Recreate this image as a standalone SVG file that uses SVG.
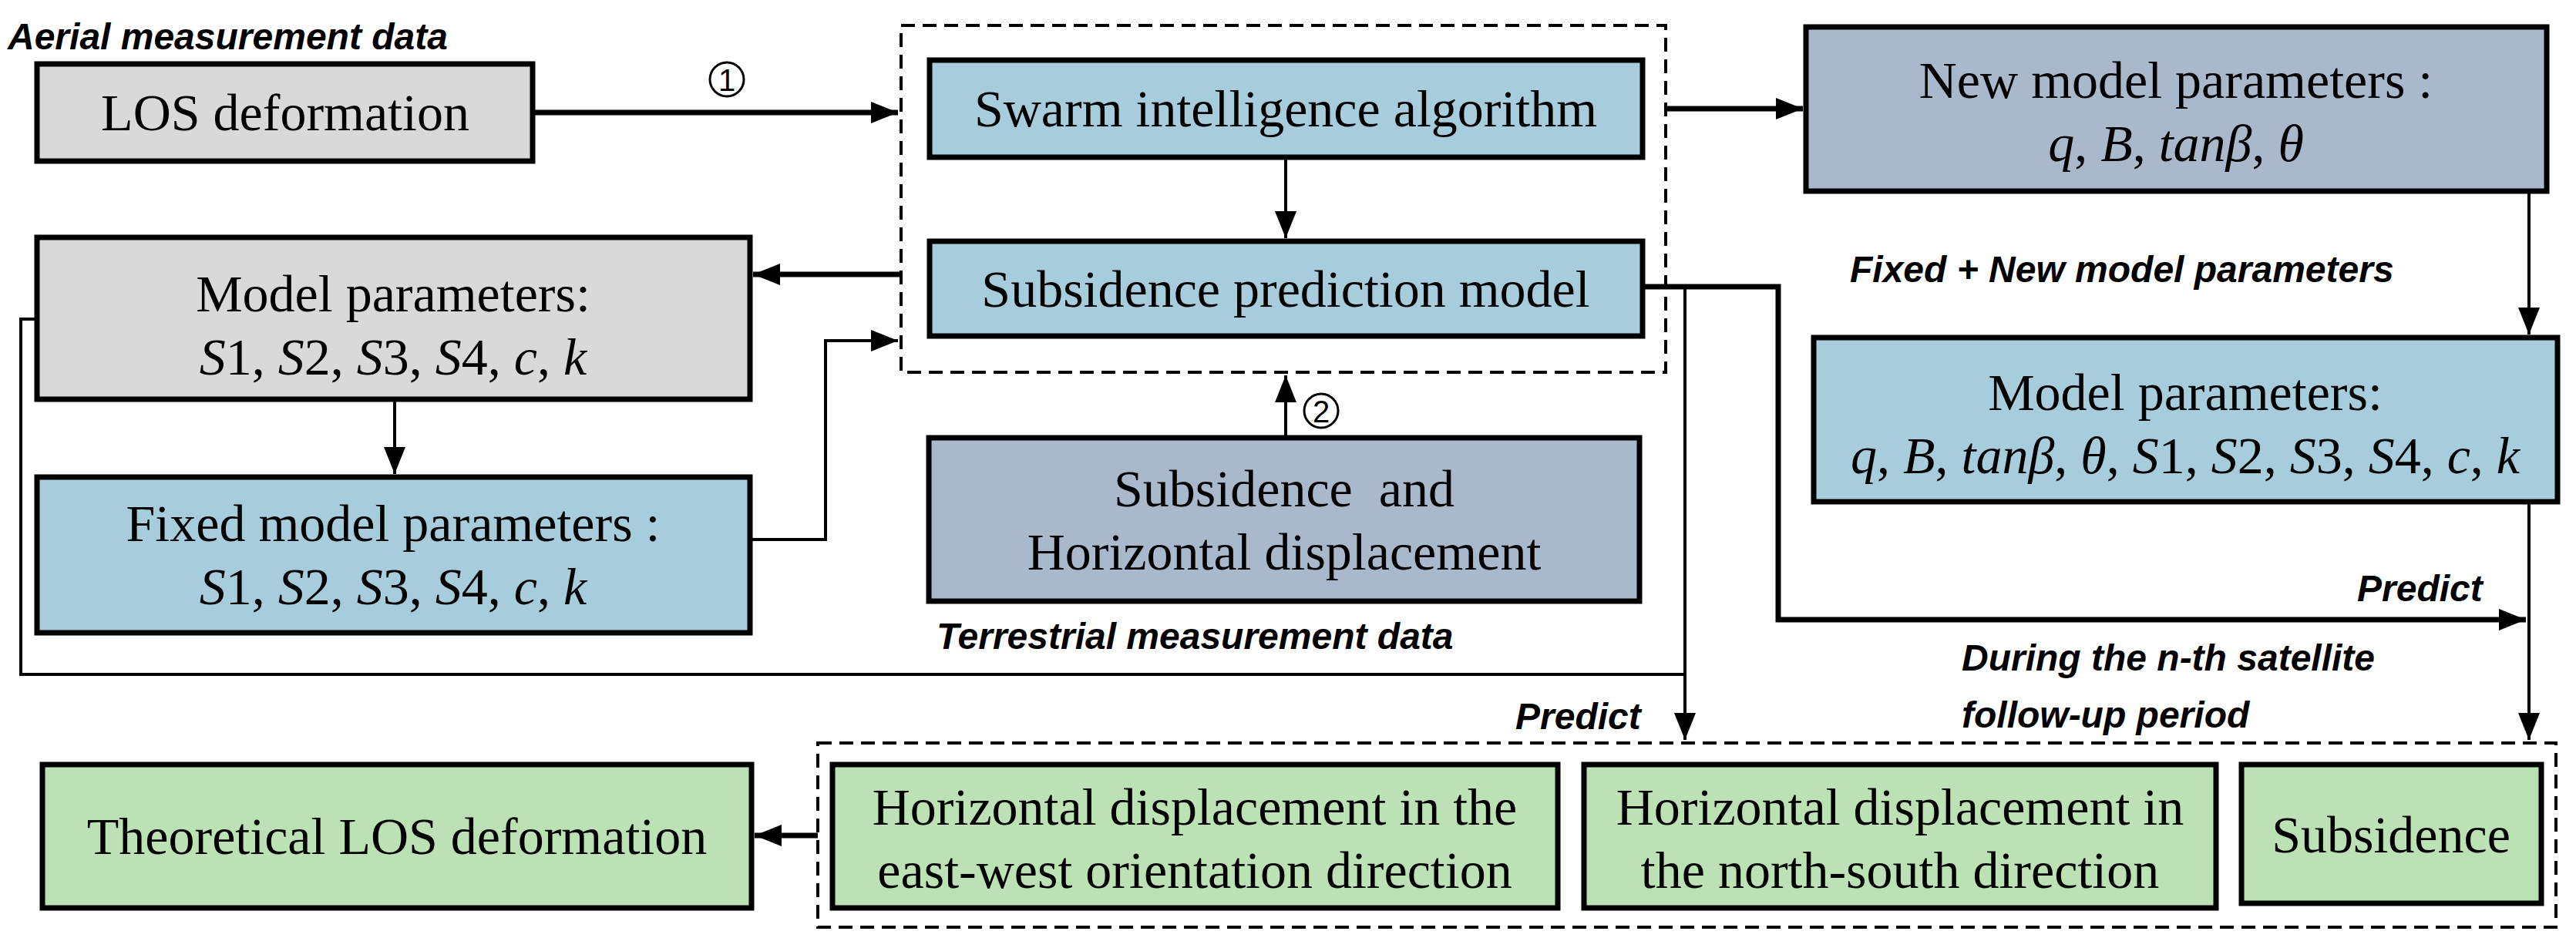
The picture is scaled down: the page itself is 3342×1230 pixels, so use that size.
<svg xmlns="http://www.w3.org/2000/svg" width="3342" height="1230" viewBox="0 0 3342 1230">
<style>
.n{stroke:#000;stroke-width:7}
.g{fill:#d9d9d9}.b{fill:#a7cddc}.s{fill:#a9b9cb}.gr{fill:#bbe1b5}
.t{font-family:"Liberation Serif",serif;font-size:68px;text-anchor:middle}
.l{font-family:"Liberation Sans",sans-serif;font-style:italic;font-weight:bold;font-size:48px}
.c{fill:none;stroke:#000;stroke-width:4}
.th{fill:none;stroke:#000;stroke-width:7}
.d{fill:none;stroke:#000;stroke-width:4;stroke-dasharray:18 10}
</style>
<defs>
<marker id="A" viewBox="0 0 10 8" refX="10" refY="4" markerWidth="36" markerHeight="28" orient="auto" markerUnits="userSpaceOnUse"><path d="M0,0L10,4L0,8z"/></marker>
</defs>
<rect width="3342" height="1230" fill="#fff"/>
<g id="groups">
<rect class="d" x="1169" y="33" width="992" height="450"/>
<rect class="d" x="1061" y="964" width="2255" height="239"/>
</g>
<g id="connectors">
<path class="th" d="M691,146H1165" marker-end="url(#A)"/>
<path class="th" d="M2161,141H2339" marker-end="url(#A)"/>
<path class="c" d="M1668,204V309" marker-end="url(#A)"/>
<path class="th" d="M1169,356H977" marker-end="url(#A)"/>
<path class="c" d="M512,518V615" marker-end="url(#A)"/>
<path class="c" d="M973,700H1071V442H1165" marker-end="url(#A)"/>
<path class="c" d="M1668,568V487" marker-end="url(#A)"/>
<path class="c" d="M3281,248V434" marker-end="url(#A)"/>
<path class="th" d="M2131,372H2307V804H3277" marker-end="url(#A)"/>
<path class="c" d="M2186,372V960" marker-end="url(#A)"/>
<path class="c" d="M48,414H27V875H2186"/>
<path class="c" d="M3281,651V960" marker-end="url(#A)"/>
<path class="th" d="M1061,1084H979" marker-end="url(#A)"/>
</g>
<g id="labels">
<text class="l" x="10" y="64">Aerial measurement data</text>
<text class="l" x="1215" y="842">Terrestrial measurement data</text>
<text class="l" x="2400" y="366">Fixed + New model parameters</text>
<text class="l" x="3058" y="780">Predict</text>
<text class="l" x="1966" y="946">Predict</text>
<text class="l" x="2545" y="870">During the n-th satellite</text>
<text class="l" x="2545" y="944">follow-up period</text>
<circle cx="943" cy="103" r="22" fill="none" stroke="#000" stroke-width="3"/>
<text x="943" y="118" font-family="Liberation Sans,sans-serif" font-size="40" text-anchor="middle">1</text>
<circle cx="1714" cy="533" r="22" fill="none" stroke="#000" stroke-width="3"/>
<text x="1714" y="548" font-family="Liberation Sans,sans-serif" font-size="40" text-anchor="middle">2</text>
</g>
<g id="los"><rect class="n g" x="48" y="83" width="643" height="126"/><text class="t" x="370" y="169">LOS deformation</text></g>
<g id="swarm"><rect class="n b" x="1206" y="78" width="925" height="126"/><text class="t" x="1668" y="164">Swarm intelligence algorithm</text></g>
<g id="spm"><rect class="n b" x="1206" y="313" width="925" height="123"/><text class="t" x="1668" y="398">Subsidence prediction model</text></g>
<g id="mp"><rect class="n g" x="48" y="308" width="925" height="210"/><text class="t" x="510" y="404">Model parameters:</text><text class="t" x="510" y="486"><tspan font-style="italic">S</tspan>1, <tspan font-style="italic">S</tspan>2, <tspan font-style="italic">S</tspan>3, <tspan font-style="italic">S</tspan>4, <tspan font-style="italic">c</tspan>, <tspan font-style="italic">k</tspan></text></g>
<g id="fmp"><rect class="n b" x="48" y="619" width="925" height="202"/><text class="t" x="510" y="702">Fixed model parameters :</text><text class="t" x="510" y="784"><tspan font-style="italic">S</tspan>1, <tspan font-style="italic">S</tspan>2, <tspan font-style="italic">S</tspan>3, <tspan font-style="italic">S</tspan>4, <tspan font-style="italic">c</tspan>, <tspan font-style="italic">k</tspan></text></g>
<g id="shd"><rect class="n s" x="1205" y="568" width="922" height="212"/><text class="t" x="1666" y="657">Subsidence&#160; and</text><text class="t" x="1666" y="739">Horizontal displacement</text></g>
<g id="nmp"><rect class="n s" x="2343" y="35" width="961" height="213"/><text class="t" x="2823" y="127">New model parameters :</text><text class="t" x="2823" y="209" font-style="italic">q<tspan font-style="normal">, </tspan>B<tspan font-style="normal">, </tspan>tanβ<tspan font-style="normal">, </tspan>θ</text></g>
<g id="amp"><rect class="n b" x="2353" y="438" width="965" height="213"/><text class="t" x="2835" y="532">Model parameters:</text><text class="t" x="2835" y="614"><tspan font-style="italic">q</tspan>, <tspan font-style="italic">B</tspan>, <tspan font-style="italic">tanβ</tspan>, <tspan font-style="italic">θ</tspan>, <tspan font-style="italic">S</tspan>1, <tspan font-style="italic">S</tspan>2, <tspan font-style="italic">S</tspan>3, <tspan font-style="italic">S</tspan>4, <tspan font-style="italic">c</tspan>, <tspan font-style="italic">k</tspan></text></g>
<g id="tlos"><rect class="n gr" x="55" y="992" width="920" height="186"/><text class="t" x="515" y="1108">Theoretical LOS deformation</text></g>
<g id="ew"><rect class="n gr" x="1080" y="992" width="941" height="186"/><text class="t" x="1550" y="1070">Horizontal displacement in the</text><text class="t" x="1550" y="1152">east-west orientation direction</text></g>
<g id="ns"><rect class="n gr" x="2055" y="992" width="820" height="186"/><text class="t" x="2465" y="1070">Horizontal displacement in</text><text class="t" x="2465" y="1152">the north-south direction</text></g>
<g id="sub"><rect class="n gr" x="2908" y="992" width="389" height="180"/><text class="t" x="3102" y="1106">Subsidence</text></g>
</svg>
